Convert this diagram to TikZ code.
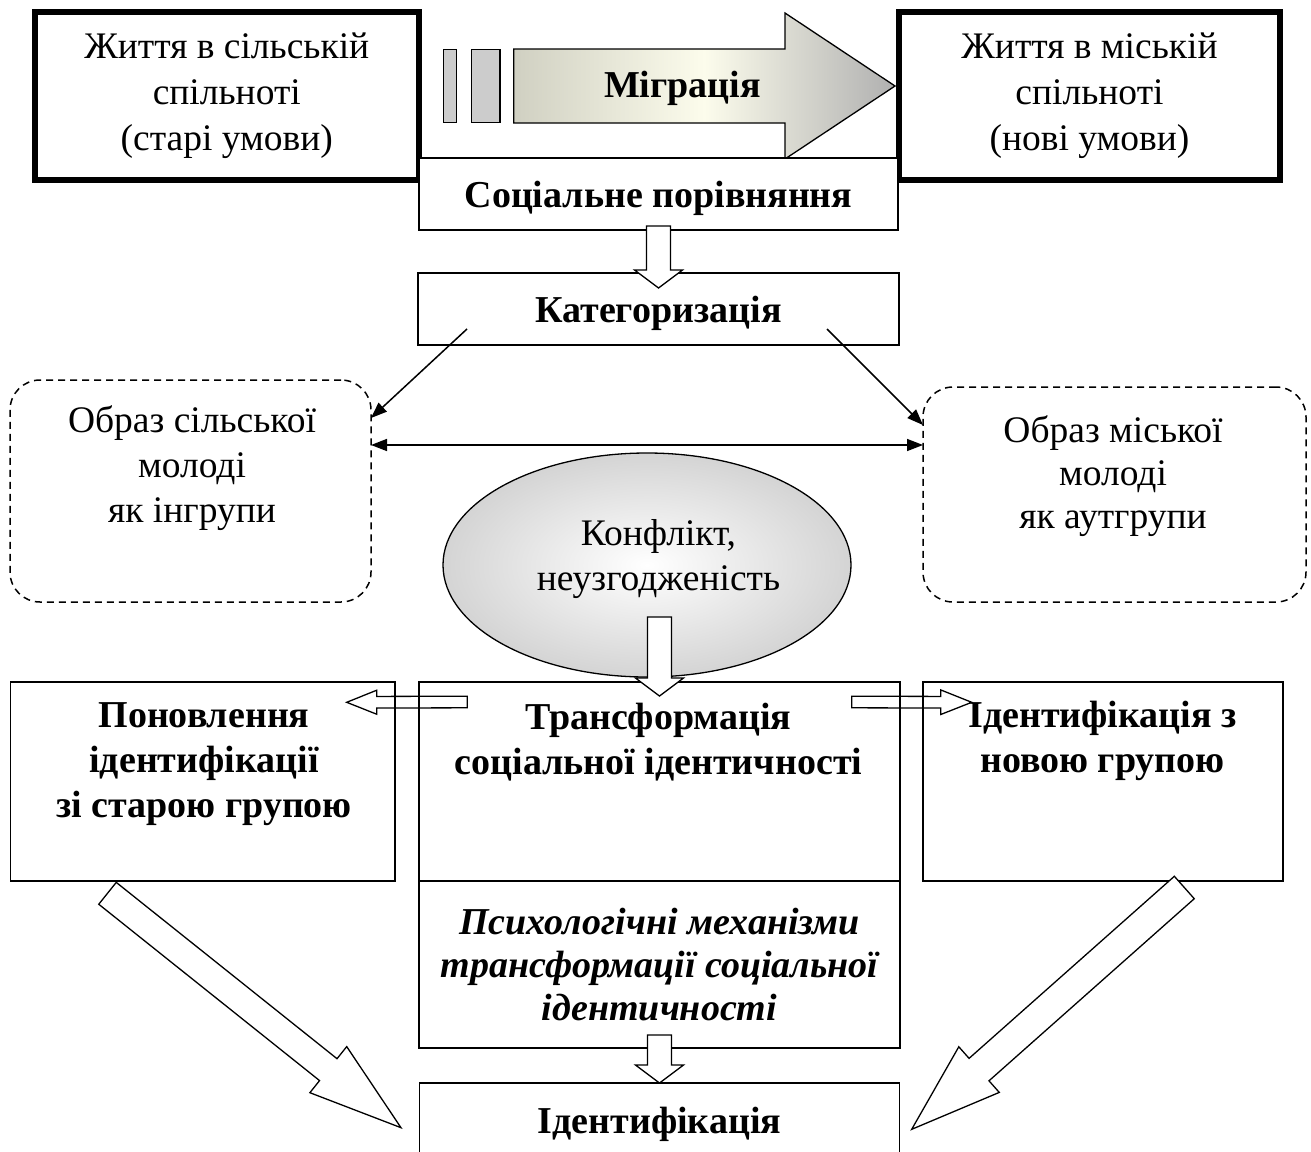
\documentclass[tikz,border=0pt]{standalone}
\usepackage{fontspec}
\setmainfont{Liberation Serif}
\usetikzlibrary{calc,arrows.meta,shapes.geometric}
\definecolor{migL}{RGB}{208,208,194}
\definecolor{migM}{RGB}{252,252,236}
\definecolor{migR}{RGB}{176,176,176}
\definecolor{rectgray}{RGB}{204,204,204}
\definecolor{ellout}{RGB}{212,212,212}
\tikzset{
  box/.style={draw, line width=1.5pt, rectangle, inner sep=0pt, outer sep=0pt},
  thickbox/.style={draw, line width=6pt, rectangle, inner sep=0pt, outer sep=0pt},
  dbox/.style={draw, line width=1.5pt, dash pattern=on 7pt off 5pt, rounded corners=30pt, rectangle, inner sep=0pt, outer sep=0pt},
  txt/.style={font=\fontsize{37.5}{45}\selectfont, align=center, inner sep=0pt, outer sep=0pt},
  btxt/.style={txt, font=\fontsize{38}{45}\selectfont\bfseries},
  oneline/.style={text height=26pt, text depth=0pt},
  thinarrow/.style={line width=1.5pt, -{Triangle[length=16pt,width=12pt]}},
  blockline/.style={line width=1.3pt, line join=miter},
  blockarrow/.style n args={3}{to path={
    let \p1=(\tikztostart), \p2=(\tikztotarget),
        \n1={atan2(\y2-\y1,\x2-\x1)}, \n2={veclen(\x2-\x1,\y2-\y1)} in
    ([shift={(\p1)},rotate=\n1]0,#1)
    -- ([shift={(\p1)},rotate=\n1]\n2-#3,#1)
    -- ([shift={(\p1)},rotate=\n1]\n2-#3,#2)
    -- ([shift={(\p1)},rotate=\n1]\n2,0)
    -- ([shift={(\p1)},rotate=\n1]\n2-#3,-#2)
    -- ([shift={(\p1)},rotate=\n1]\n2-#3,-#1)
    -- ([shift={(\p1)},rotate=\n1]0,-#1)
    -- cycle}}
}
\begin{document}
\begin{tikzpicture}[x=1pt,y=-1pt]
\useasboundingbox (0,0) rectangle (1311,1151);
\fill[white] (0,0) rectangle (1311,1151);
\clip (0,0) rectangle (1311,1151);

% top boxes
\node[thickbox, txt, font=\fontsize{37.5}{46}\selectfont, minimum width=384pt, minimum height=168pt] (topL) at (226.8,96) {Життя в сільській\\спільноті\\(старі умови)};
\node[thickbox, txt, font=\fontsize{37.5}{46}\selectfont, minimum width=381pt, minimum height=168pt] (topR) at (1089.5,96) {Життя в міській\\спільноті\\(нові умови)};

% migration arrow
\draw[blockline, left color=migL, right color=migR, middle color=migM, blockarrow={37}{73}{110}]
  ($(topL.east)+(95,-10)$) to ($(topR.west)+(-4,-10)$);
\node[draw, line width=1.3pt, fill=rectgray, minimum width=13.4pt, minimum height=73.4pt, inner sep=0pt] (r1) at (450,86) {};
\node[draw, line width=1.3pt, fill=rectgray, minimum width=28.3pt, minimum height=73.4pt, inner sep=0pt] (r2) at (485.8,86) {};
\node[btxt, oneline] (migr) at (682.5,84) {Міграція};

% social comparison and categorisation
\node[box, btxt, oneline, fill=white, minimum width=479pt, minimum height=72pt] (soc) at (658.5,194) {Соціальне порівняння};
\node[box, btxt, oneline, minimum width=481pt, minimum height=72pt] (kat) at (658.5,309) {Категоризація};
\draw[blockline, fill=white, blockarrow={12}{24}{18}] ($(soc.south)+(0,-4)$) to ($(kat.north)+(0,15)$);

% dashed images
\node[dbox, minimum width=361pt, minimum height=222pt] (dashL) at (190.5,491) {};
\node[txt] (dashLt) at (192,468) {Образ сільської\\молоді\\як інгрупи};
\node[dbox, minimum width=383pt, minimum height=215pt] (dashR) at (1114.5,494.5) {};
\node[txt, font=\fontsize{37.5}{43}\selectfont] (dashRt) at (1113,476) {Образ міської\\молоді\\як аутгрупи};

\draw[thinarrow] ($(kat.south west)+(49,-16)$) -- ($(dashL.north east)+(0,38)$);
\draw[thinarrow] ($(kat.south east)+(-72,-16)$) -- ($(dashR.north west)+(0,38)$);
\draw[line width=1.5pt, {Triangle[length=16pt,width=12pt]}-{Triangle[length=16pt,width=12pt]}]
  ($(dashL.north east)+(0,65)$) -- ($(dashR.north west)+(0,58)$);

% conflict ellipse
\node[ellipse, draw, line width=1.3pt, inner color=white, outer color=ellout, minimum width=408pt, minimum height=224pt, inner sep=0pt, outer sep=0pt] (conf) at (647,565) {};
\node[txt] (conft) at (658.5,559) {Конфлікт,\\неузгодженість};

% row of three boxes
\node[box, minimum width=384.5pt, minimum height=199pt] (pon) at (202.75,781.5) {};
\node[btxt] (pont) at (204,764) {Поновлення\\ідентифікації\\зі старою групою};
\node[box, minimum width=481pt, minimum height=199pt] (trans) at (659.5,781.5) {};
\node[btxt] (transt) at (658.5,742) {Трансформація\\соціальної ідентичності};
\node[box, minimum width=360pt, minimum height=199pt] (idn) at (1103,781.5) {};
\node[btxt] (idnt) at (1102.5,741) {Ідентифікація з\\новою групою};

\draw[blockline, fill=white, blockarrow={12}{24}{18}] ($(trans.north)+(0,-65)$) to ($(trans.north)+(0,14)$);
\draw[blockline, blockarrow={5.8}{12}{30}] ($(trans.north west)+(48.3,20)$) to ($(pon.north east)+(-48.3,20.3)$);
\draw[blockline, blockarrow={5.8}{12.3}{31}] ($(trans.north east)+(-48.3,20)$) to ($(idn.north west)+(48.7,20.3)$);

% psychological mechanisms
\node[box, line width=2.2pt, txt, font=\fontsize{38}{43}\selectfont\bfseries\itshape, minimum width=481pt, minimum height=167pt] (psy) at (659.5,964.5) {Психологічні механізми\\трансформації соціальної\\ідентичності};

% final identification
\node[box, btxt, oneline, minimum width=480pt, minimum height=74pt] (fin) at (659.5,1120) {Ідентифікація};
\draw[blockline, fill=white, blockarrow={12}{24}{18}] ($(psy.south)+(0,-13)$) to (fin.north);

% diagonal arrows
\draw[blockline, fill=white, blockarrow={14}{29.5}{93}] ($(pon.south west)+(97,12.3)$) to ($(fin.west)+(-18.5,7.7)$);
\draw[blockline, fill=white, blockarrow={15}{30.5}{90}] ($(idn.south east)+(-98.7,6.5)$) to ($(fin.east)+(12.2,9.3)$);
\end{tikzpicture}
\end{document}
